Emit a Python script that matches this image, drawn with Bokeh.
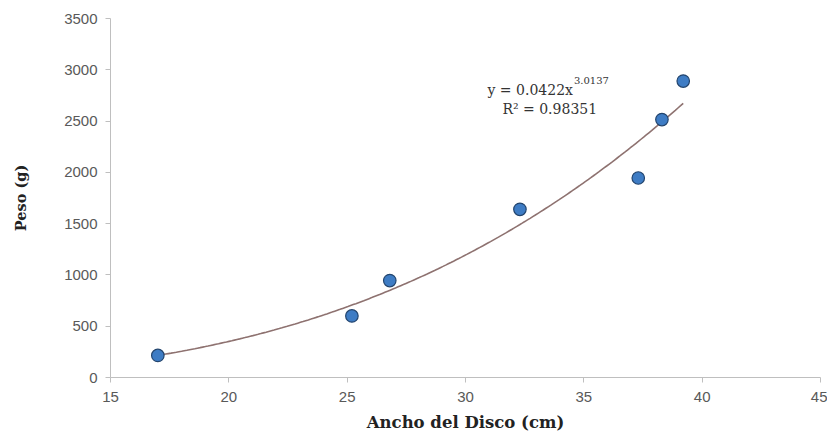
import numpy as np
from bokeh.plotting import figure
from bokeh.models import Range1d, Label, FixedTicker, ColumnDataSource
from bokeh.embed import file_html
from bokeh.resources import INLINE

# Data
ancho = [17.0, 25.2, 26.8, 32.3, 37.3, 38.3, 39.2]
peso = [215, 600, 945, 1640, 1945, 2515, 2890]

# Power trendline as printed on the chart: y = a * x^b
coef_a = 0.0422
coef_b = 3.0137
r2_text = "0.98351"

x_ticks = [15, 20, 25, 30, 35, 40, 45]
y_ticks = [0, 500, 1000, 1500, 2000, 2500, 3000, 3500]

p = figure(width=827, height=434, output_backend="svg", toolbar_location=None,
           x_range=Range1d(15, 45), y_range=Range1d(0, 3500),
           min_border_left=110, min_border_right=7, min_border_top=18, min_border_bottom=50)
p.outline_line_color = None
p.xgrid.visible = False
p.ygrid.visible = False
p.background_fill_color = "white"
p.border_fill_color = "white"

tick_font = "Liberation Sans"
title_font = "DejaVu Serif"

for ax in (p.xaxis[0], p.yaxis[0]):
    ax.axis_line_color = "#BFBFBF"
    ax.axis_line_width = 1
    ax.major_tick_line_color = "#BFBFBF"
    ax.major_tick_in = 0
    ax.major_tick_out = 5
    ax.minor_tick_line_color = None
    ax.major_label_text_font = tick_font
    ax.major_label_text_font_size = "15px"
    ax.major_label_text_color = "#595959"
    ax.axis_label_text_font = title_font
    ax.axis_label_text_font_style = "bold"
    ax.axis_label_text_color = "#222222"

p.xaxis[0].axis_label_text_font_size = "16.5px"
p.yaxis[0].axis_label_text_font_size = "14.5px"
p.xaxis[0].ticker = FixedTicker(ticks=x_ticks)
p.yaxis[0].ticker = FixedTicker(ticks=y_ticks)
p.xaxis[0].axis_label = "Ancho del Disco (cm)"
p.yaxis[0].axis_label = "Peso (g)"
p.xaxis[0].major_label_standoff = 9
p.yaxis[0].major_label_standoff = 8
p.xaxis[0].axis_label_standoff = 8
p.yaxis[0].axis_label_standoff = 32

# trendline
xs = np.linspace(min(ancho), max(ancho), 200)
ys = coef_a * xs ** coef_b
p.line(xs, ys, line_color="#8E7270", line_width=1.6)

src = ColumnDataSource(dict(x=ancho, y=peso))
p.scatter("x", "y", source=src, size=12.5, fill_color="#3E7CC4", line_color="#23456E", line_width=1.2)

# equation labels
p.add_layout(Label(x=30.93, y=2807, text="y = %sx" % coef_a, text_font=title_font,
                   text_font_size="14px", text_color="#333333", text_baseline="middle"))
p.add_layout(Label(x=34.58, y=2895, text="%s" % coef_b, text_font=title_font,
                   text_font_size="10px", text_color="#333333", text_baseline="middle"))
p.add_layout(Label(x=31.56, y=2622, text="R\u00b2 = " + r2_text, text_font=title_font,
                   text_font_size="14px", text_color="#333333", text_baseline="middle"))

open("out.html", "w").write(file_html(p, INLINE))
